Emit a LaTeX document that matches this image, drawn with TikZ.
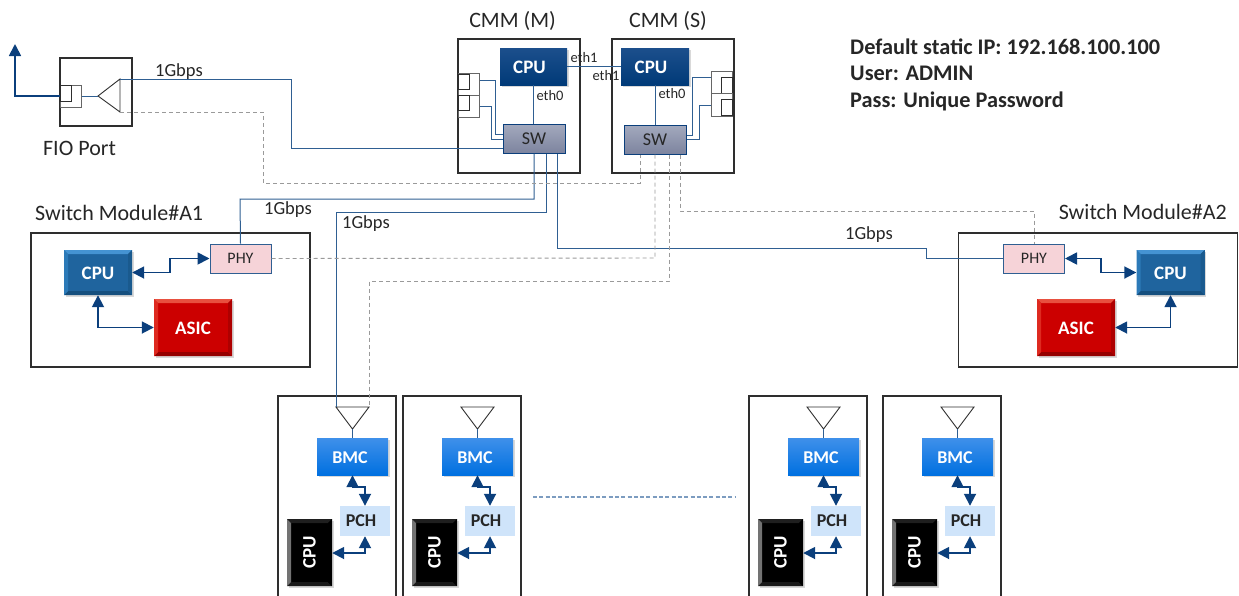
\documentclass[tikz,border=0pt]{standalone}
\usepackage{fontspec}
\setmainfont{Carlito}
\usepackage{xcolor}
\usetikzlibrary{arrows.meta,shadows}

\definecolor{linkblue}{HTML}{2F5F92}
\definecolor{gapblue}{HTML}{7C9CC0}
\definecolor{arrowblue}{HTML}{0B3F7C}
\definecolor{dashgray}{HTML}{9A9A9A}
\definecolor{framegray}{HTML}{2E2E2E}
\definecolor{labelgray}{HTML}{262626}

\tikzset{
    softshadow/.style={drop shadow={shadow xshift=1.5pt, shadow yshift=-2pt, opacity=0.3}},
    bevelbox/.style n args={5}{draw=none, fill=#1, text=white, font=\fontsize{19}{19}\selectfont\bfseries,
        inner sep=0pt, softshadow,
        path picture={
            \fill[#2] (path picture bounding box.north west) -- (path picture bounding box.north east)
                -- ([xshift=-4pt,yshift=-4pt]path picture bounding box.north east)
                -- ([xshift=4pt,yshift=-4pt]path picture bounding box.north west) -- cycle;
            \fill[#3] (path picture bounding box.south west) -- (path picture bounding box.south east)
                -- ([xshift=-4pt,yshift=4pt]path picture bounding box.south east)
                -- ([xshift=4pt,yshift=4pt]path picture bounding box.south west) -- cycle;
            \fill[#4] (path picture bounding box.north west) -- (path picture bounding box.south west)
                -- ([xshift=4pt,yshift=4pt]path picture bounding box.south west)
                -- ([xshift=4pt,yshift=-4pt]path picture bounding box.north west) -- cycle;
            \fill[#5] (path picture bounding box.north east) -- (path picture bounding box.south east)
                -- ([xshift=-4pt,yshift=4pt]path picture bounding box.south east)
                -- ([xshift=-4pt,yshift=-4pt]path picture bounding box.north east) -- cycle;
        }},
    switchcpu/.style={bevelbox={blue1}{blue2}{blue3}{blue4}{blue5}, minimum width=68pt, minimum height=45pt, text height=14pt, text depth=0pt},
    asicbox/.style={bevelbox={red1}{red2}{red3}{red4}{red5}, minimum width=78pt, minimum height=57pt, text height=14pt, text depth=0pt},
    bladecpu/.style={bevelbox={black}{black!88}{black!90}{black!55}{black}, minimum width=45pt, minimum height=67pt},
    cmmcpu/.style={top color=cmm1, bottom color=cmm2, text=white, font=\fontsize{19}{19}\selectfont\bfseries,
        inner sep=0pt, minimum height=37pt, text height=14pt, text depth=0pt, softshadow},
    framebox/.style={draw=framegray, line width=1.6pt, inner sep=0pt},
    portbox/.style={draw=black!60, line width=1pt, fill=white, inner sep=0pt},
    swbox/.style={draw=arrowblue, line width=1pt, top color=sw1, bottom color=sw2,
        text=labelgray, font=\fontsize{18}{18}\selectfont, minimum width=62pt, minimum height=29pt, inner sep=0pt},
    phybox/.style={draw=linkblue, line width=1pt, fill=phy1, text=labelgray,
        font=\fontsize{16}{16}\selectfont, minimum width=61pt, minimum height=29pt, inner sep=0pt},
    pchbox/.style={fill=pch1, text=labelgray, font=\fontsize{18}{18}\selectfont\bfseries,
        minimum width=50pt, minimum height=30pt, inner sep=0pt},
    bmcbox/.style={top color=bmc1, bottom color=bmc2, text=white, font=\fontsize{18}{18}\selectfont\bfseries,
        minimum width=71pt, minimum height=37pt, inner sep=0pt, text height=13pt, text depth=0pt, softshadow},
    link/.style={draw=linkblue, line width=1pt},
    dashlink/.style={draw=dashgray, line width=0.9pt, dash pattern=on 4pt off 3pt},
    busarrow/.style={draw=arrowblue, line width=1.8pt, <->},
    title/.style={text=labelgray, font=\fontsize{22}{22}\selectfont, inner sep=0pt},
    speed/.style={text=labelgray, font=\fontsize{18.5}{19}\selectfont, inner sep=0pt},
    ethlabel/.style={text=labelgray, font=\fontsize{14.5}{15}\selectfont, inner sep=0pt},
    info/.style={text=black!85, font=\fontsize{22.3}{23}\selectfont\bfseries, inner sep=0pt, anchor=west}
}
\definecolor{blue1}{HTML}{1F649E}
\definecolor{blue2}{HTML}{4593D2}
\definecolor{blue3}{HTML}{154F7E}
\definecolor{blue4}{HTML}{2C7AB8}
\definecolor{blue5}{HTML}{1A5A8E}
\definecolor{red1}{HTML}{CC0000}
\definecolor{red2}{HTML}{E8503F}
\definecolor{red3}{HTML}{960000}
\definecolor{red4}{HTML}{DE2A20}
\definecolor{red5}{HTML}{AE0000}
\definecolor{cmm1}{HTML}{1C4F8C}
\definecolor{cmm2}{HTML}{003A78}
\definecolor{sw1}{HTML}{A3A9BD}
\definecolor{sw2}{HTML}{7D849F}
\definecolor{phy1}{HTML}{F6D3D8}
\definecolor{pch1}{HTML}{CFE4FA}
\definecolor{bmc1}{HTML}{3F90EA}
\definecolor{bmc2}{HTML}{0070E0}

\begin{document}
\begin{tikzpicture}[x=1pt, y=-1pt, >={Triangle[length=12pt,width=12pt]}]
    \useasboundingbox (0,0) rectangle (1239,595);

    % Info text
    \node[info] (Info-1) at (850,47) {Default static IP: 192.168.100.100};
    \node[info] (Info-2) at (850,73) {User: ADMIN};
    \node[info] (Info-3) at (850,101) {Pass: Unique Password};

    % FIO port
    \node[framebox, minimum width=72pt, minimum height=68pt] (FIO) at (96,92) {};
    \node[title] (FIO-title) at (79.5,148) {FIO Port};
    \node[portbox, minimum width=21pt, minimum height=22pt] (FIO-port) at (70.5,96) {};
    \node[draw=framegray, line width=1pt, inner sep=0pt, minimum width=11pt, minimum height=16pt] (FIO-inner) at (65.5,93) {};
    \coordinate (FIO-apex) at (98,96);
    \coordinate (FIO-top) at (120,79);
    \coordinate (FIO-bot) at (120,112);
    \coordinate (FIO-up) at (15,44);
    \draw[framegray, line width=0.9pt] (FIO-apex) -- (FIO-top) -- (FIO-bot) -- cycle;
    \draw[link] (FIO-port.east) -- (FIO-apex);
    \draw[->, arrowblue, line width=1.8pt] (FIO-port.west) -- (15,96) -- (FIO-up);

    % CMM modules
    \node[title] (CMM-M-title) at (512.5,21) {CMM (M)};
    \node[title] (CMM-S-title) at (668,21) {CMM (S)};
    \node[framebox, minimum width=122pt, minimum height=134pt] (CMM-M) at (519,106) {};
    \node[framebox, minimum width=122pt, minimum height=134pt] (CMM-S) at (673,106) {};
    \node[cmmcpu, minimum width=67pt] (CPU-M) at (533.5,66.5) {CPU\hspace*{8pt}};
    \node[cmmcpu, minimum width=68pt] (CPU-S) at (655,66.5) {CPU\hspace*{8pt}};
    \node[swbox] (SW-M) at (534,138.5) {SW};
    \node[swbox] (SW-S) at (655,139.5) {SW};
    \draw[link] (CPU-M) -- (CPU-S);
    \draw[link] (CPU-M.south) -- (SW-M.north -| CPU-M.south);
    \draw[link] (CPU-S.south) -- (SW-S.north -| CPU-S.south);
    \node[ethlabel] (Eth1-M) at (584,58) {eth1};
    \node[ethlabel] (Eth1-S) at (606,76) {eth1};
    \node[ethlabel] (Eth0-M) at (550,96) {eth0};
    \node[ethlabel] (Eth0-S) at (672,94) {eth0};

    % Ports of the CMM modules
    \foreach \i/\y/\iy in {1/84.5/81.5,2/106/103}
    {
        \node[portbox, minimum width=21pt, minimum height=22pt] (Port-M-\i) at (468.5,\y) {};
        \node[draw=framegray, line width=1pt, inner sep=0pt, minimum width=11pt, minimum height=15pt] (Inner-M-\i) at (463.5,\iy) {};
    }
    \foreach \i/\y/\iy in {1/82.5/85,2/105/107.5}
    {
        \node[portbox, minimum width=21pt, minimum height=23pt] (Port-S-\i) at (721.5,\y) {};
        \node[draw=framegray, line width=1pt, inner sep=0pt, minimum width=11pt, minimum height=16pt] (Inner-S-\i) at (726.5,\iy) {};
    }
    \draw[link] ([yshift=4.5pt]Port-M-1.east) -- (495,80) -- (495,134) -- ([yshift=4.5pt]SW-M.west);
    \draw[link] (Port-M-2.east) -- (491,106) -- (491,139) -- (SW-M.west |- 0,139);
    \draw[link] ([yshift=5.5pt]Port-S-1.west) -- (692,77) -- (692,135) -- ([yshift=4.5pt]SW-S.east);
    \draw[link] (Port-S-2.west) -- (699,105) -- (699,139.5) -- (SW-S.east);

    % Switch modules
    \node[title, anchor=west] (SM-A1-title) at (35,213) {Switch Module\#A1};
    \node[title, anchor=east] (SM-A2-title) at (1227,212) {Switch Module\#A2};
    \node[framebox, minimum width=279pt, minimum height=134pt] (SM-A1) at (170.5,300) {};
    \node[framebox, minimum width=279pt, minimum height=134pt] (SM-A2) at (1098,300) {};
    \node[phybox] (PHY-A1) at (240.5,258.5) {PHY};
    \node[phybox] (PHY-A2) at (1034,258.5) {PHY};
    \node[switchcpu] (CPU-A1) at (98,272.5) {CPU};
    \node[switchcpu] (CPU-A2) at (1170.5,272.5) {CPU};
    \node[asicbox] (ASIC-A1) at (193,327.5) {ASIC};
    \node[asicbox] (ASIC-A2) at (1076,327.5) {ASIC};
    \draw[busarrow] (CPU-A1.east) -- (170,272.5) -- (170,258.5) -- (PHY-A1.west);
    \draw[busarrow] (CPU-A1.south) -- (98,327.5) -- (ASIC-A1.west);
    \draw[busarrow] (PHY-A2.east) -- (1101,258.5) -- (1101,272.5) -- (CPU-A2.west);
    \draw[busarrow] (ASIC-A2.east) -- (1170.5,327.5) -- (CPU-A2.south);

    % Server blades
    \foreach \dx/\n in {0/1,125/2,471/3,605/4}
    {
        \begin{scope}[xshift=\dx pt]
            \coordinate (Blade-\n-bl) at (278,600);
            \coordinate (Blade-\n-br) at (396,600);
            \coordinate (Tri-\n-left) at (336,407);
            \coordinate (Tri-\n-right) at (369,407);
            \coordinate (Tri-\n-apex) at (352.5,429);
            \draw[framegray, line width=1.6pt] (Blade-\n-bl) |- (337,396) -| (Blade-\n-br);
            \draw[framegray, line width=0.9pt] (Tri-\n-left) -- (Tri-\n-right) -- (Tri-\n-apex) -- cycle;
            \node[bmcbox] (BMC-\n) at (352.5,456.5) {BMC\hspace*{5pt}};
            \node[pchbox] (PCH-\n) at (365,521) {PCH\hspace*{8pt}};
            \node[bladecpu] (CPU-\n) at (309.5,552.5) {\rotatebox{90}{CPU}};
            \draw[link] (Tri-\n-apex) -- (BMC-\n.north);
            \draw[busarrow] (BMC-\n.south) -- (352.5,487) -- (365,487) -- (PCH-\n.north);
            \draw[busarrow] (PCH-\n.south) -- (365,553) -- (CPU-\n.east |- 365,553);
        \end{scope}
    }
    \coordinate (Gap-left) at (533,497);
    \coordinate (Gap-right) at (735,497);
    \draw[gapblue, line width=1.2pt, dash pattern=on 4pt off 2.3pt] (Gap-left) -- (Gap-right);

    % Solid 1Gbps links
    \draw[link] (FIO-top) -- (291,79) -- (291,148) -- (SW-M.west |- 291,148);
    \draw[link] (SW-M.south) -- (534,199) -- (240,199) -- (PHY-A1.north);
    \draw[link] ([xshift=12pt]SW-M.south) -- (546,212) -- (336,212) -- (Tri-1-left);
    \draw[link] ([xshift=23pt]SW-M.south) -- (557,248) -- (926,248) -- (926,258.5) -- (PHY-A2.west);
    \node[speed] (Speed-1) at (179,71.5) {1Gbps};
    \node[speed] (Speed-2) at (288,209.5) {1Gbps};
    \node[speed] (Speed-3) at (366,224) {1Gbps};
    \node[speed] (Speed-4) at (869,234.5) {1Gbps};

    % Dashed links
    \draw[dashlink] (FIO-bot) -- (263,112) -- (263,183) -- (640,183) -- ([xshift=-15pt]SW-S.south);
    \draw[dashlink] (SW-S.south) -- (655,258) -- (PHY-A1.east);
    \draw[dashlink] ([xshift=14pt]SW-S.south) -- (669,281) -- (369,281) -- (Tri-1-right);
    \draw[dashlink] ([xshift=25pt]SW-S.south) -- (680,211) -- (1034,211) -- (PHY-A2.north);

\end{tikzpicture}
\end{document}
